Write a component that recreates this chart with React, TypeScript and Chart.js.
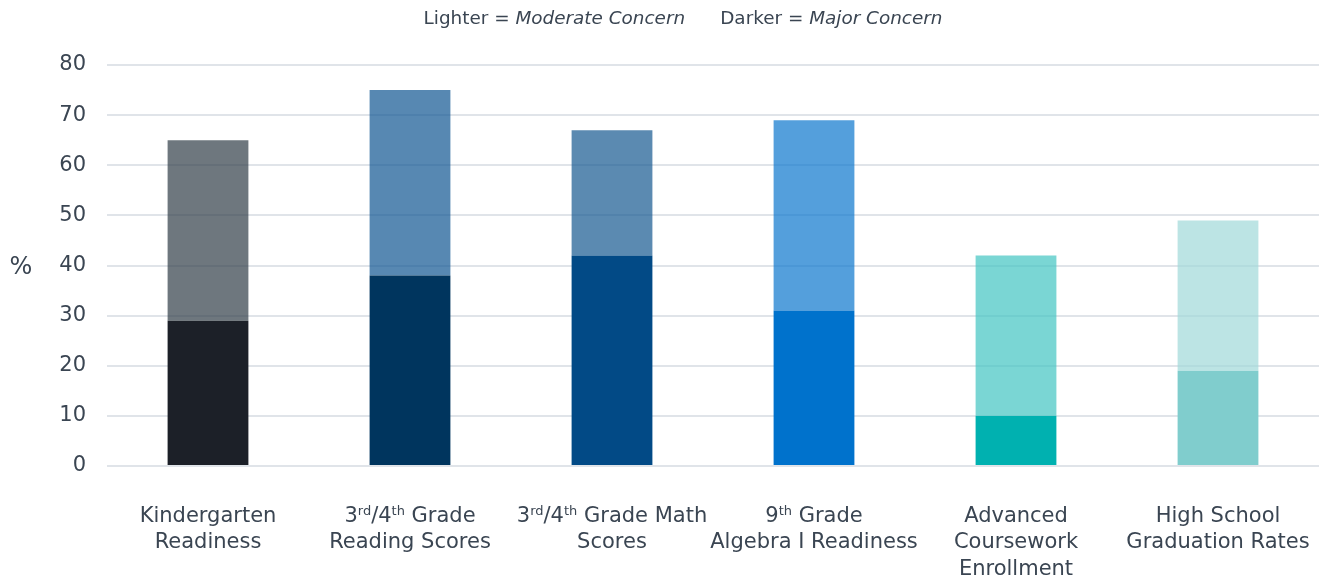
import React, { useEffect, useRef } from "react";
import { Chart, registerables } from "chart.js";

Chart.register(...registerables);

// Category labels; text inside <...> is drawn as a superscript.
const categoryLines: string[][] = [
  ["Kindergarten", "Readiness"],
  ["3<rd>/4<th> Grade", "Reading Scores"],
  ["3<rd>/4<th> Grade Math", "Scores"],
  ["9<th> Grade", "Algebra I Readiness"],
  ["Advanced", "Coursework", "Enrollment"],
  ["High School", "Graduation Rates"],
];

// Percent of respondents reporting each level of concern.
const majorConcern = [29, 38, 42, 31, 10, 19];
const moderateConcern = [36, 37, 25, 38, 32, 30];

const majorColors = ["#1c2028", "#00355e", "#024a86", "#0072cc", "#00b1b0", "#80cdcd"];
const moderateColors = [
  "rgba(49,61,71,0.7)",
  "rgba(16,86,145,0.7)",
  "rgba(22,88,144,0.7)",
  "rgba(11,118,205,0.7)",
  "rgba(65,196,194,0.7)",
  "rgba(159,216,216,0.7)",
];

const yTicks = [0, 10, 20, 30, 40, 50, 60, 70, 80];

const FONT = "'DejaVu Sans', Verdana, sans-serif";
const TEXT = "#3a4552";

type Seg = { t: string; sup: boolean };

function parse(line: string): Seg[] {
  const out: Seg[] = [];
  const re = /<([^>]*)>|([^<]+)/g;
  let m: RegExpExecArray | null;
  while ((m = re.exec(line))) {
    if (m[1] !== undefined) out.push({ t: m[1], sup: true });
    else out.push({ t: m[2], sup: false });
  }
  return out;
}

const textPlugin = {
  id: "textPlugin",
  afterDraw(chart: Chart) {
    const ctx = chart.ctx;
    const xScale = chart.scales.x;
    ctx.save();
    ctx.fillStyle = TEXT;
    ctx.textBaseline = "alphabetic";
    ctx.textAlign = "left";

    // Category labels with superscripts
    const mainFont = `21px ${FONT}`;
    const supFont = `13px ${FONT}`;
    const baselines = [521.5, 548, 574.5];
    categoryLines.forEach((lines, i) => {
      const cx = xScale.getPixelForValue(i);
      lines.forEach((line, li) => {
        const segs = parse(line);
        let w = 0;
        segs.forEach((s) => {
          ctx.font = s.sup ? supFont : mainFont;
          w += ctx.measureText(s.t).width;
        });
        let x = cx - w / 2;
        segs.forEach((s) => {
          ctx.font = s.sup ? supFont : mainFont;
          ctx.fillText(s.t, x, baselines[li] - (s.sup ? 7 : 0));
          x += ctx.measureText(s.t).width;
        });
      });
    });

    // Legend line
    const parts: { t: string; it: boolean }[] = [
      { t: "Lighter = ", it: false },
      { t: "Moderate Concern", it: true },
      { t: "      Darker = ", it: false },
      { t: "Major Concern", it: true },
    ];
    let tw = 0;
    const titleSize = 18.4;
    parts.forEach((p) => {
      ctx.font = `${p.it ? "italic " : ""}${titleSize}px ${FONT}`;
      tw += ctx.measureText(p.t).width;
    });
    let tx = 683 - tw / 2;
    parts.forEach((p) => {
      ctx.font = `${p.it ? "italic " : ""}${titleSize}px ${FONT}`;
      ctx.fillText(p.t, tx, 24);
      tx += ctx.measureText(p.t).width;
    });

    // Axis unit
    ctx.font = `24px ${FONT}`;
    ctx.textAlign = "center";
    ctx.textBaseline = "middle";
    ctx.fillText("%", 21, 268);
    ctx.restore();
  },
};

export default function App() {
  const ref = useRef<HTMLCanvasElement>(null);

  useEffect(() => {
    if (!ref.current) return;
    const chart = new Chart(ref.current, {
      type: "bar",
      data: {
        labels: categoryLines.map((l) => l.join(" ").replace(/[<>]/g, "")),
        datasets: [
          {
            label: "Major Concern",
            data: majorConcern,
            backgroundColor: majorColors,
            borderWidth: 0,
            barPercentage: 0.4,
            categoryPercentage: 1,
          },
          {
            label: "Moderate Concern",
            data: moderateConcern,
            backgroundColor: moderateColors,
            borderWidth: 0,
            barPercentage: 0.4,
            categoryPercentage: 1,
          },
        ],
      },
      options: {
        responsive: false,
        animation: false,
        layout: { padding: { top: 65, bottom: 109, left: 0, right: 3 } },
        plugins: {
          legend: { display: false },
          tooltip: { enabled: false },
          title: { display: false },
        },
        scales: {
          x: {
            stacked: true,
            display: false,
          },
          y: {
            stacked: true,
            min: yTicks[0],
            max: yTicks[yTicks.length - 1],
            afterFit: (s: any) => {
              s.width = 107;
            },
            afterBuildTicks: (s: any) => {
              s.ticks = yTicks.map((v) => ({ value: v }));
            },
            border: { display: false },
            grid: {
              color: "#e0e4e9",
              lineWidth: 2,
              drawTicks: false,
            },
            ticks: {
              padding: 21,
              color: TEXT,
              font: { family: FONT, size: 21 },
            },
          },
        },
      },
      plugins: [textPlugin],
    });
    return () => chart.destroy();
  }, []);

  return (
    <div style={{ position: "fixed", left: 0, top: 0, width: 1322, height: 575, background: "#fff" }}>
      <canvas ref={ref} width={1322} height={575} style={{ display: "block" }} />
    </div>
  );
}
